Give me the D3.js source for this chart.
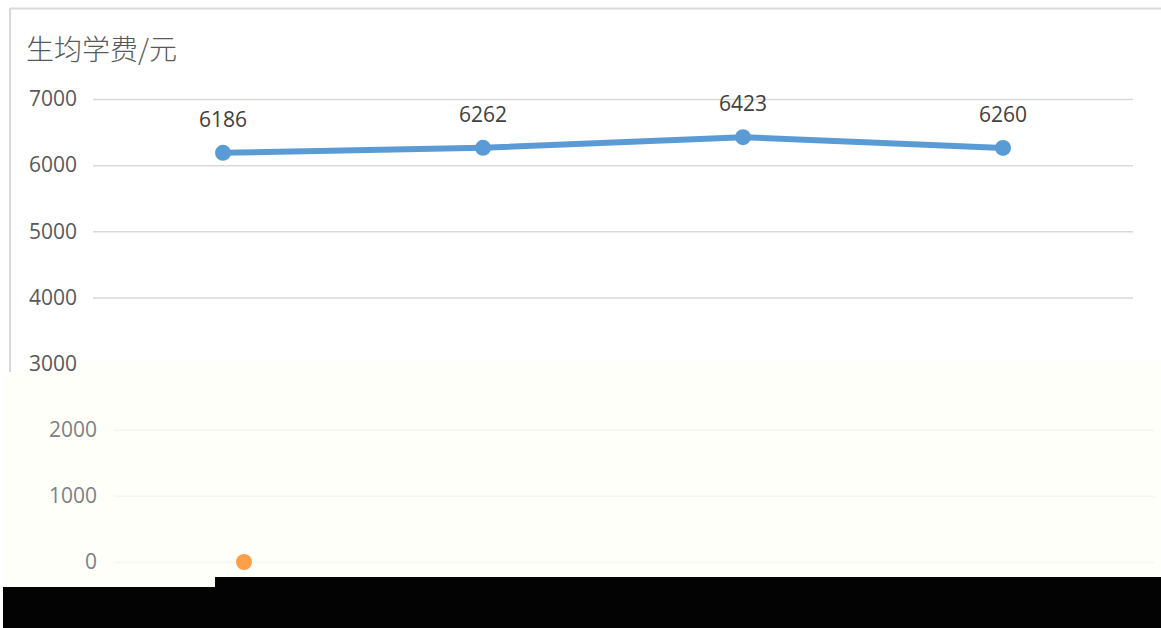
<!DOCTYPE html>
<html><head><meta charset="utf-8">
<script src="https://cdn.jsdelivr.net/npm/d3@7"></script>
<style>body{margin:0;background:#fff;}svg{display:block;}</style>
</head><body>
<svg id="c" width="1161" height="628"></svg>
<script>
const categories = ["2016年", "2017年", "2018年", "2019年"];
const tuition = [6186, 6262, 6423, 6260];
const series2 = [0, null, null, null];
const yTicks = [0, 1000, 2000, 3000, 4000, 5000, 6000, 7000];
const title = "生均学费/元";

const svg = d3.select("#c");
const W = 1161, H = 628;
const y = d3.scaleLinear().domain([0, 7000]).range([562, 99]);
const x = d3.scaleBand().domain(categories).range([93, 1133]).padding(0);
const cx = d => x(d) + x.bandwidth() / 2;
const font = "'Open Sans', 'Noto Sans CJK SC', sans-serif";

svg.append("rect").attr("width", W).attr("height", H).attr("fill", "#fff");
// frame
svg.append("line").attr("x1", 10).attr("x2", W).attr("y1", 8.5).attr("y2", 8.5).attr("stroke", "#d9d9d9").attr("stroke-width", 2);
svg.append("line").attr("x1", 10).attr("x2", 10).attr("y1", 8).attr("y2", 372).attr("stroke", "#d9d9d9").attr("stroke-width", 2);

svg.append("text").attr("x", 26).attr("y", 60).text(title)
  .attr("font-family", "'Noto Sans CJK SC', sans-serif").attr("font-weight", 300)
  .attr("font-size", 28).attr("fill", "#595959");

// upper chart
const up = svg.append("g");
const yAxis = d3.axisLeft(y).tickValues(yTicks.filter(v => v > 3000)).tickSize(-1040).tickFormat(d3.format("d"));
const ga = up.append("g").attr("transform", "translate(93,0)").call(yAxis);
ga.select(".domain").remove();
ga.selectAll(".tick line").attr("stroke", "#d9d9d9").attr("stroke-width", 1.5);
ga.selectAll(".tick text").attr("x", -16).attr("font-family", font).attr("font-size", 21).attr("fill", "#595959");

const line = d3.line().x((d, i) => cx(categories[i])).y(d => y(d));
up.append("path").datum(tuition).attr("d", line).attr("fill", "none").attr("stroke", "#5b9bd5").attr("stroke-width", 6).attr("stroke-linejoin", "round");
up.selectAll("circle.p").data(tuition).enter().append("circle")
  .attr("cx", (d, i) => cx(categories[i])).attr("cy", d => y(d)).attr("r", 8).attr("fill", "#5b9bd5");
up.selectAll("text.l").data(tuition).enter().append("text")
  .attr("x", (d, i) => cx(categories[i])).attr("y", d => y(d) - 26).attr("text-anchor", "middle")
  .attr("font-family", font).attr("font-size", 21).attr("fill", "#404040").text(d => d);

// lower glitched region
svg.append("rect").attr("x", 28).attr("y", 362).attr("width", W - 28).attr("height", 225).attr("fill", "#fffffa");
svg.append("rect").attr("x", 3).attr("y", 372).attr("width", 30).attr("height", 215).attr("fill", "#fffffa");
// 3000 label of upper chart stays on top
const g3 = svg.append("g").attr("transform", "translate(93,0)").call(
  d3.axisLeft(y).tickValues([3000]).tickSize(0).tickFormat(d3.format("d")));
g3.select(".domain").remove();
g3.selectAll(".tick text").attr("x", -16).attr("font-family", font).attr("font-size", 21).attr("fill", "#595959");

const low = svg.append("g").attr("transform", "translate(21,0)");
const yAxis2 = d3.axisLeft(y).tickValues(yTicks.filter(v => v < 3000)).tickSize(-1040).tickFormat(d3.format("d"));
const gb = low.append("g").attr("transform", "translate(93,0)").call(yAxis2);
gb.select(".domain").remove();
gb.selectAll(".tick line").attr("stroke", "#f6f6ee").attr("stroke-width", 1.5);
gb.selectAll(".tick text").attr("x", -17).attr("font-family", font).attr("font-size", 21).attr("fill", "#808080");
low.selectAll("circle.o").data(series2.map((v, i) => ({v, c: categories[i]})).filter(d => d.v !== null)).enter().append("circle")
  .attr("cx", d => cx(d.c)).attr("cy", d => y(d.v)).attr("r", 8).attr("fill", "#ff9f4a");

// black band
svg.append("rect").attr("x", 3).attr("y", 587).attr("width", W - 3).attr("height", H - 587).attr("fill", "#030303");
svg.append("rect").attr("x", 215).attr("y", 577).attr("width", W - 215).attr("height", 12).attr("fill", "#030303");
low.selectAll("text.x").data(categories).enter().append("text")
  .attr("x", d => cx(d)).attr("y", 598).attr("text-anchor", "middle")
  .attr("font-family", font).attr("font-size", 18).attr("fill", "#1c1c1c").text(d => d);
</script>
</body></html>
